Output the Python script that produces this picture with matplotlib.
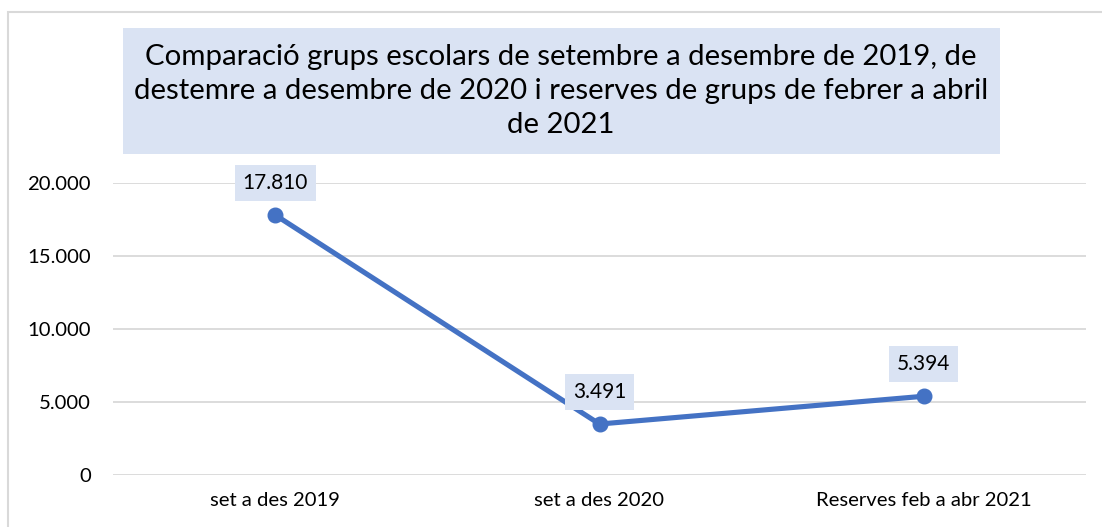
import matplotlib.pyplot as plt
from matplotlib.patches import Rectangle

categories = ['set a des 2019', 'set a des 2020', 'Reserves feb a abr 2021']
values = [17810, 3491, 5394]
labels = ['17.810', '3.491', '5.394']
yticks = [0, 5000, 10000, 15000, 20000]
yticklabels = ['0', '5.000', '10.000', '15.000', '20.000']
title = ('Comparació grups escolars de setembre a desembre de 2019, de\n'
         'destemre a desembre de 2020 i reserves de grups de febrer a abril\n'
         'de 2021')

plt.rcParams['font.family'] = ['Lato', 'DejaVu Sans']
W, H = 1102, 527
fig = plt.figure(figsize=(W / 100, H / 100), dpi=100)

# outer chart border (light grey)
fig.patches.append(Rectangle((8 / W, -0.1), 1.2, 1 - 12 / H + 0.1,
                             transform=fig.transFigure, fill=False,
                             edgecolor='#D9D9D9', lw=1.5))

# title box
fig.patches.append(Rectangle((123 / W, 1 - 154 / H), 877 / W, 126 / H,
                             transform=fig.transFigure, facecolor='#DAE3F3',
                             edgecolor='none'))
fig.text(561 / W, 1 - 91 / H, title, ha='center', va='center',
         fontsize=21.2, linespacing=1.36, color='#000000')

ax = fig.add_axes([113 / W, 1 - 475 / H, 973 / W, 292 / H])
x = range(len(categories))
ax.plot(x, values, color='#4472C4', lw=3.7, marker='o', ms=10.5, zorder=3,
        solid_capstyle='round')
for xi, v, lab in zip(x, values, labels):
    ax.annotate(lab, (xi, v), xytext=(0, 23), textcoords='offset points',
                ha='center', va='center', fontsize=15, zorder=4,
                bbox=dict(boxstyle='square,pad=0.38', facecolor='#DAE3F3',
                          edgecolor='none'))

ax.set_xlim(-0.5, 2.5)
ax.set_ylim(0, 20000)
ax.set_yticks(yticks)
ax.set_yticklabels(yticklabels)
ax.set_xticks(list(x))
ax.set_xticklabels(categories)
ax.grid(axis='y', color='#D9D9D9', lw=1.3)
ax.set_axisbelow(True)
ax.tick_params(length=0, labelsize=14.6, colors='#000000')
ax.tick_params(axis='y', pad=16)
ax.tick_params(axis='x', pad=12)
for s in ax.spines.values():
    s.set_visible(False)
ax.set_facecolor('none')

fig.savefig('out.png', dpi=100)
